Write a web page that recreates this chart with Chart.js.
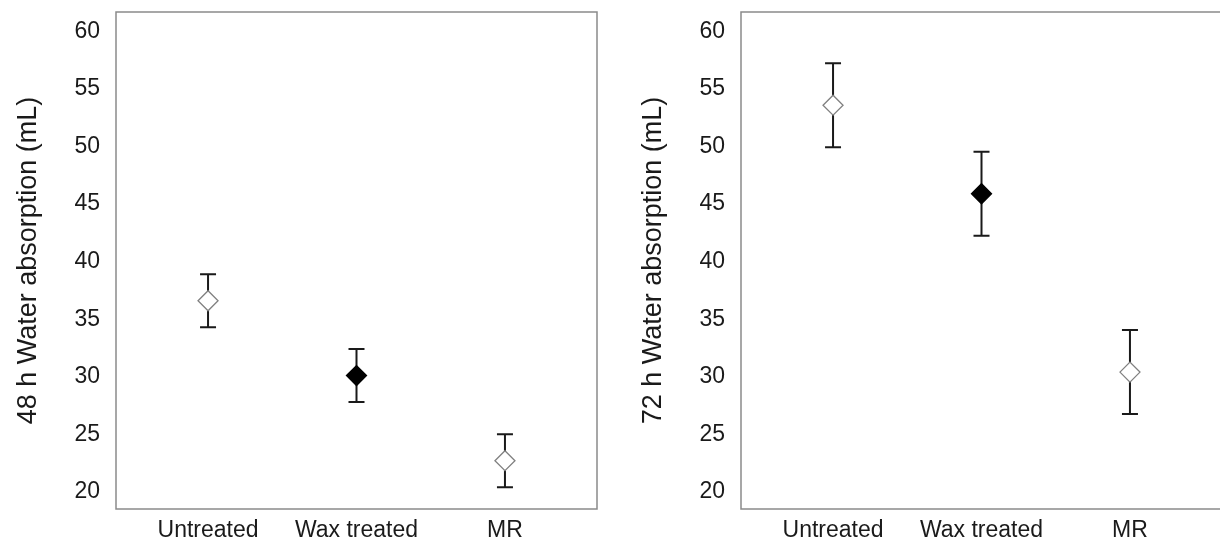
<!DOCTYPE html>
<html>
<head>
<meta charset="utf-8">
<script src="https://cdn.jsdelivr.net/npm/chart.js@4/dist/chart.umd.min.js"></script>
<style>
  html, body { margin: 0; padding: 0; background: #fff; overflow: hidden; }
  body { width: 1220px; height: 542px; position: relative; }
  .panel { position: absolute; top: 0; width: 610px; height: 542px; }
  #p48 { left: 0; }
  #p72 { left: 625px; }
</style>
</head>
<body>
<div class="panel" id="p48"><canvas id="c48"></canvas></div>
<div class="panel" id="p72"><canvas id="c72"></canvas></div>
<script>
// Treatments along the x axis
const categories = ['Untreated', 'Wax treated', 'MR'];

// Mean water absorption (mL) and error (±) after 48 h
const mean48 = [36.6, 30.1, 22.7];
const err48  = [2.3, 2.3, 2.3];

// Mean water absorption (mL) and error (±) after 72 h
const mean72 = [53.6, 45.9, 30.4];
const err72  = [3.65, 3.65, 3.65];

// Y tick values shared by both panels
const yTicks = [20, 25, 30, 35, 40, 45, 50, 55, 60];

// Marker styling per treatment: open, filled, open
const markerFill   = ['#ffffff', '#000000', '#ffffff'];
const markerStroke = ['#808080', '#000000', '#808080'];

const FONT = '"Liberation Sans", Arial, sans-serif';
const TEXT = '#1a1a1a';

// Vertical error bars with caps, drawn beneath the markers
const errorBars = {
  id: 'errorBars',
  beforeDatasetsDraw(chart, args, opts) {
    const { ctx, scales: { x, y } } = chart;
    const means = opts.means, errs = opts.errors;
    ctx.save();
    ctx.strokeStyle = '#1a1a1a';
    ctx.lineWidth = 2;
    means.forEach((m, i) => {
      const px = x.getPixelForValue(i + 1);
      const top = y.getPixelForValue(m + errs[i]);
      const bot = y.getPixelForValue(m - errs[i]);
      const cap = 8;
      ctx.beginPath();
      ctx.moveTo(px, top); ctx.lineTo(px, bot);
      ctx.moveTo(px - cap, top); ctx.lineTo(px + cap, top);
      ctx.moveTo(px - cap, bot); ctx.lineTo(px + cap, bot);
      ctx.stroke();
    });
    ctx.restore();
  }
};

// Grey box around the plotting area
const frame = {
  id: 'frame',
  afterDraw(chart) {
    const { ctx, chartArea: a } = chart;
    ctx.save();
    ctx.strokeStyle = '#8a8a8a';
    ctx.lineWidth = 1.5;
    ctx.strokeRect(a.left, a.top, a.right - a.left, a.bottom - a.top);
    ctx.restore();
  }
};

function makePanel(canvasId, title, means, errs) {
  const points = means.map((v, i) => ({ x: i + 1, y: v }));
  return new Chart(document.getElementById(canvasId), {
    type: 'scatter',
    data: {
      datasets: [{
        data: points,
        pointStyle: 'rectRot',
        pointRadius: 10,
        pointHoverRadius: 10,
        pointBackgroundColor: markerFill,
        pointBorderColor: markerStroke,
        pointBorderWidth: 1.3,
        showLine: false
      }]
    },
    options: {
      responsive: true,
      maintainAspectRatio: false,
      animation: false,
      events: [],
      layout: { padding: { top: 12, right: 13, left: 0, bottom: 0 } },
      plugins: {
        legend: { display: false },
        tooltip: { enabled: false },
        errorBars: { means: means, errors: errs }
      },
      scales: {
        x: {
          type: 'linear',
          min: 0.38,
          max: 3.62,
          grid: { display: false, drawTicks: false },
          border: { display: false },
          afterBuildTicks(s) { s.ticks = categories.map((c, i) => ({ value: i + 1 })); },
          afterFit(s) { s.height = 33; s.paddingLeft = 0; s.paddingRight = 0; },
          ticks: {
            padding: 8,
            autoSkip: false,
            maxRotation: 0,
            color: TEXT,
            font: { family: FONT, size: 23 },
            callback: (v) => categories[v - 1]
          }
        },
        y: {
          type: 'linear',
          min: 18.5,
          max: 61.7,
          grid: { display: false, drawTicks: false },
          border: { display: false },
          afterBuildTicks(s) { s.ticks = yTicks.map(v => ({ value: v })); },
          afterFit(s) { s.width = 116; s.paddingTop = 0; s.paddingBottom = 0; },
          ticks: {
            padding: 16,
            color: TEXT,
            font: { family: FONT, size: 23 }
          },
          title: {
            display: true,
            text: title,
            color: TEXT,
            font: { family: FONT, size: 27 },
            padding: { top: 12, bottom: 0 }
          }
        }
      }
    },
    plugins: [errorBars, frame]
  });
}

makePanel('c48', '48 h Water absorption (mL)', mean48, err48);
makePanel('c72', '72 h Water absorption (mL)', mean72, err72);
</script>
</body>
</html>
